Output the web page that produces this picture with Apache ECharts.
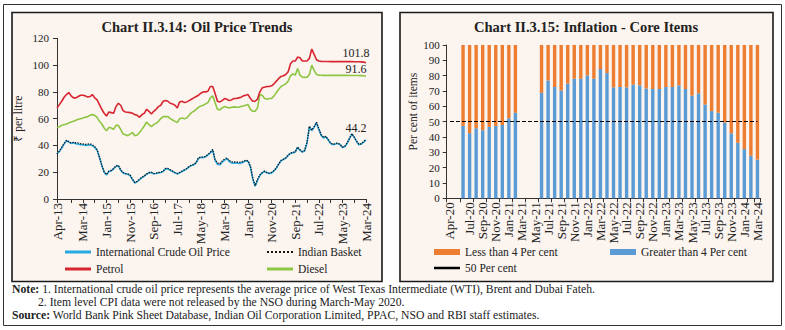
<!DOCTYPE html>
<html><head><meta charset="utf-8">
<script src="https://cdn.jsdelivr.net/npm/echarts@6/dist/echarts.min.js"></script>
<style>html,body{margin:0;padding:0;background:#fff}#c{width:785px;height:330px}</style>
</head><body><div id="c"></div>
<script>
// ---------- DATA ----------
const MON = ['Jan','Feb','Mar','Apr','May','Jun','Jul','Aug','Sep','Oct','Nov','Dec'];
function monthLabels(year, monthIdx, n){
  const out=[]; let y=year, m=monthIdx;
  for(let i=0;i<n;i++){ out.push(MON[m]+'-'+String(y%100).padStart(2,'0')); m++; if(m>11){m=0;y++;} }
  return out;
}
// Chart II.3.14 : Apr-13 .. Mar-24 (monthly)
const oilCategories = monthLabels(2013, 3, 132);
const oilYTicks = [0,20,40,60,80,100,120];
const crudePrice = [33.8,35.5,38,41,43.5,42.5,41.5,42,41.2,41,
 40.5,40.5,40,40.2,40.5,39.8,38.5,36.5,31,25,
 20,18,20.5,21,22.5,24.5,24.8,21.5,19.5,18.8,
 18.5,17.5,14.5,12,13,14.5,16,17,18.5,19.5,
 19.8,18.8,19,19.5,19.8,20.5,22.5,22.5,21.5,20.5,
 19.5,18.8,19.5,20.5,21.5,22.5,24,25,25.5,27,
 30.5,31,31,31.5,33,34.5,36.5,29,26,25.5,
 27.5,29,30,28,27,26.8,27,26.5,26.8,27.5,
 28.5,28,24,15,9.5,14,17.5,19.5,20.5,19.5,
 19,19.5,21,23,26,28.5,29.5,30.5,32.5,34,
 34.5,35,38.5,36.5,35,36,42,54,51,53.5,
 57,52,47.5,45.5,46.5,44,41.5,40.5,41,41.5,
 40.5,38.5,39,41.5,45,48.5,46,43,40.5,41,
 42.5,44.2];
const indianBasket = [33.5,35.8,38.5,41.5,43.8,42.8,41.8,42.3,42,41.8,
 41.3,41.2,40.8,41,41.2,40.5,39,36.8,31.2,25.3,
 20.2,18.3,20.8,21.3,22.8,24.8,25,21.8,19.8,19,
 18.8,17.8,14.8,12.3,13.2,14.8,16.3,17.3,18.8,19.8,
 20,19,19.3,19.8,20,20.8,22.8,22.8,21.8,20.8,
 19.8,19,19.8,20.8,21.8,22.8,24.3,25.3,25.8,27.3,
 30.8,31.3,31.3,31.8,33.3,34.8,37,29.5,26.8,26.3,
 28.2,29.8,30.8,28.8,27.8,27.6,27.8,27.3,27.6,28.2,
 29,28.5,24.5,15.5,10,14.5,18,19.8,20.8,19.8,
 19.3,19.8,21.3,23.3,26.3,28.8,29.8,30.8,32.8,34.3,
 34.8,35.3,38.8,36.8,35.3,36.3,42.3,54.3,51.5,54,
 57.3,52.5,48,46,46.8,44.3,41.8,40.8,41.3,41.8,
 40.8,38.8,39.3,41.8,45.3,48.8,46.3,43.3,40.8,41.3,
 42.8,44.5];
const petrolPrice = [68,70.5,73,76,78,79.5,77,75.5,75.5,76.5,
 77.5,77.5,77,76.2,76.5,78,75.5,74,70.5,67,
 64,62,65,64.5,64,69,71.5,70,66,65,
 64.8,64.5,64,63,62.5,61,63,64,67,65.5,
 63.5,65.5,67,69,70,73,73.5,73,71.5,71,
 70,68,72.5,73,72,72.5,73.5,74.5,75.5,76.5,
 77.5,79,80,80,80.5,84,84,79,73,72.5,
 73.5,75,74.5,73.5,74,75,75,75.5,76,77,
 77.5,78,75,73,73,74.5,80,83,83.5,84,
 84,84.5,86,88,90,91.5,92,93,95,101,
 103,103,106,105.5,103,103,103,105,112,108,
 104,103,102.8,102.7,102.7,102.7,102.6,102.6,102.6,102.6,
 102.6,102.6,102.6,102.6,102.6,102.6,102.5,102.5,102.5,102.4,
 102.2,101.8];
const dieselPrice = [53.5,54,55,55.5,56,56.8,57.5,58,58.8,59.5,
 60,60.5,61,61.5,62.5,63,62.5,61,58,56,
 53,51,53.5,53,52,55,55,52,48.5,48,
 47.3,48.5,49.7,47.3,47.8,49.7,52,54.5,57.5,55.5,
 54,55.5,56.5,58,60,61.5,61.5,61.5,60,59,
 58,57,60,60.5,60,60.5,62.5,64.5,65.5,67,
 68.5,69.5,70,71,72,75.5,77,72,67,66.5,
 68,69,68.5,68,68.5,68.8,68.5,68.5,69,69.5,
 70,70.5,67,65.5,65.5,68,78,77.5,75,74.5,
 75,75,77,79.5,82,84,85,86,88,92,
 93.5,92.5,97.5,92.5,91,90.8,91,93,100,96,
 93,92.5,92.4,92.3,92.3,92.3,92.3,92.3,92.3,92.3,
 92.3,92.3,92.3,92.3,92.2,92.2,92.2,92.2,92.2,92.1,
 92,91.6];

// Chart II.3.15 : Apr-20 .. Mar-24 (monthly)
const coreCategories = monthLabels(2020, 3, 48);
const coreYTicks = [0,10,20,30,40,50,60,70,80,90,100];
const greaterThan4 = [null,null,47.2,42.5,45.7,44.4,46.6,47.2,47.8,52.2,55.8,null,null,null,
 68.8,76.9,72.6,70.3,74.8,78,78,80.2,78,84.3,
 81.7,72.4,72.6,72.4,74.1,73.7,71.6,71.3,71.3,72.6,
 72.6,73.7,71.3,67,68.5,61.2,56.9,55.8,49.4,42.4,
 36.2,32.1,27.7,25.2];
const lessThan4 = [null,null,52.8,57.5,54.3,55.6,53.4,52.8,52.2,47.8,44.2,null,null,null,
 31.2,23.1,27.4,29.7,25.2,22,22,19.8,22,15.7,
 18.3,27.6,27.4,27.6,25.9,26.3,28.4,28.7,28.7,27.4,
 27.4,26.3,28.7,33,31.5,38.8,43.1,44.2,50.6,57.6,
 63.8,67.9,72.3,74.8];
const thresholdLine = 50;

// ---------- CHART ----------
const FONT = 'Liberation Serif';
const TXT = '#222';
const chart = echarts.init(document.getElementById('c'), null, {renderer:'svg'});

function endLbl(offset){
  return {show:true, formatter:(p)=>String(Array.isArray(p.value)?p.value[1]:p.value),
    fontFamily:FONT, fontSize:12, color:TXT, align:'center', verticalAlign:'middle', distance:0, offset:offset};
}

const DOTS = 'path://M0,0h2v2h-2zM4,0h2v2h-2zM8,0h2v2h-2zM12,0h2v2h-2zM16,0h2v2h-2zM20,0h2v2h-2zM24,0h2v2h-2z';
function legendItem(name, left, top, opts){
  return Object.assign({
    data:[name], left:left, top:top, itemWidth:26, itemHeight:3, padding:0, symbolKeepAspect:false,
    icon:'rect', textStyle:{fontFamily:FONT, fontSize:11.5, color:TXT}, selectedMode:false
  }, opts||{});
}

const xLbl = {fontFamily:FONT, fontSize:13, color:TXT, showMinLabel:true, showMaxLabel:true, hideOverlap:false};
const yLbl = {fontFamily:FONT, fontSize:11, color:TXT};

const option = {
  backgroundColor:'#fff',
  animation:false,
  graphic:[
    {type:'rect', z:-10, shape:{x:3.5,y:4.5,width:778,height:321}, style:{fill:'#fff', stroke:'#333', lineWidth:1}},
    {type:'rect', z:-9, shape:{x:12,y:12.5,width:370,height:269}, style:{fill:'#fbf4ef', stroke:'#1a1a1a', lineWidth:1.6}},
    {type:'rect', z:-9, shape:{x:400,y:12.5,width:373,height:269}, style:{fill:'#fbf4ef', stroke:'#1a1a1a', lineWidth:1.6}},
    {type:'text', x:197, y:27, style:{text:'Chart II.3.14: Oil Price Trends', font:'bold 14.5px "Liberation Serif"', fill:TXT, textAlign:'center', textVerticalAlign:'middle'}},
    {type:'text', x:586, y:27, style:{text:'Chart II.3.15: Inflation - Core Items', font:'bold 14.5px "Liberation Serif"', fill:TXT, textAlign:'center', textVerticalAlign:'middle'}},
    {type:'text', x:12, y:289, style:{text:'{b|Note:} 1. International crude oil price represents the average price of West Texas Intermediate (WTI), Brent and Dubai Fateh.', rich:{b:{fontWeight:'bold', fontFamily:FONT, fontSize:11.7, fill:TXT}}, font:'11.7px "Liberation Serif"', fill:TXT, textVerticalAlign:'middle'}},
    {type:'text', x:38, y:302, style:{text:'2. Item level CPI data were not released by the NSO during March-May 2020.', font:'11.7px "Liberation Serif"', fill:TXT, textVerticalAlign:'middle'}},
    {type:'text', x:12, y:315, style:{text:'{b|Source:} World Bank Pink Sheet Database, Indian Oil Corporation Limited, PPAC, NSO and RBI staff estimates.', rich:{b:{fontWeight:'bold', fontFamily:FONT, fontSize:11.7, fill:TXT}}, font:'11.7px "Liberation Serif"', fill:TXT, textVerticalAlign:'middle'}}
  ],
  legend:[
    legendItem('International Crude Oil Price', 65, 246),
    legendItem('Indian Basket', 267, 246, {icon:DOTS, itemHeight:2}),
    legendItem('Petrol', 65, 263),
    legendItem('Diesel', 267, 263),
    legendItem('Less than 4 Per cent', 434, 246, {itemHeight:6}),
    legendItem('Greater than 4 Per cent', 610, 246, {itemHeight:6}),
    legendItem('50 Per cent', 434, 262, {itemHeight:2.5, itemStyle:{color:'#000'}})
  ],
  grid:[
    {left:57, right:419, top:38.3, bottom:131},
    {left:446.7, right:24.3, top:45, bottom:131.7}
  ],
  xAxis:[
    {type:'category', gridIndex:0, data:oilCategories, boundaryGap:false,
     axisLine:{lineStyle:{color:'#333', width:1}},
     axisTick:{show:true, inside:false, length:4, interval:(i)=> i===0 || i===6 || (i>=11 && (i-11)%5===0), lineStyle:{color:'#333'}},
     axisLabel:Object.assign({rotate:90, margin:4, interval:(i)=> i===0 || (i>=11 && (i-11)%10===0)}, xLbl)},
    {type:'category', gridIndex:1, data:coreCategories, boundaryGap:true,
     axisLine:{lineStyle:{color:'#333', width:1}},
     axisTick:{show:true, length:4, interval:1, lineStyle:{color:'#333'}},
     axisLabel:Object.assign({rotate:90, margin:4, interval:(i)=> i===0 || (i>=3 && i%2===1)}, xLbl)}
  ],
  yAxis:[
    {type:'value', gridIndex:0, min:oilYTicks[0], max:oilYTicks[oilYTicks.length-1], interval:oilYTicks[1]-oilYTicks[0],
     name:'₹ per litre', nameLocation:'middle', nameGap:33, nameTextStyle:{fontFamily:FONT, fontSize:11.5, color:TXT},
     axisLine:{show:true, lineStyle:{color:'#333'}}, axisTick:{show:true, length:4, lineStyle:{color:'#333'}},
     splitLine:{show:false}, axisLabel:Object.assign({margin:8}, yLbl)},
    {type:'value', gridIndex:1, min:coreYTicks[0], max:coreYTicks[coreYTicks.length-1], interval:coreYTicks[1]-coreYTicks[0],
     name:'Per cent of items', nameLocation:'middle', nameGap:28, nameTextStyle:{fontFamily:FONT, fontSize:11.5, color:TXT, padding:[0,0,0,20]},
     axisLine:{show:true, lineStyle:{color:'#333'}}, axisTick:{show:true, length:4, lineStyle:{color:'#333'}},
     splitLine:{show:false}, axisLabel:Object.assign({margin:7}, yLbl)}
  ],
  series:[
    {name:'Diesel', type:'line', xAxisIndex:0, yAxisIndex:0, symbol:'none', color:'#8dc641',
     lineStyle:{width:1.6, color:'#8dc641'}, endLabel:endLbl([-10,-7]), data:dieselPrice},
    {name:'Petrol', type:'line', xAxisIndex:0, yAxisIndex:0, symbol:'none', color:'#d7262f',
     lineStyle:{width:1.6, color:'#d7262f'}, endLabel:endLbl([-10,-10]), data:petrolPrice},
    {name:'International Crude Oil Price', type:'line', xAxisIndex:0, yAxisIndex:0, symbol:'none', color:'#27a9e1',
     lineStyle:{width:1.6, color:'#27a9e1'}, endLabel:endLbl([-10,-12]), data:crudePrice},
    {name:'Indian Basket', type:'line', xAxisIndex:0, yAxisIndex:0, symbol:'none', color:'#111',
     lineStyle:{width:1.3, type:'dotted', color:'#111'}, data:indianBasket},
    {name:'Greater than 4 Per cent', type:'bar', xAxisIndex:1, yAxisIndex:1, stack:'core', barWidth:3.4,
     itemStyle:{color:'#5b9bd5'}, data:greaterThan4},
    {name:'Less than 4 Per cent', type:'bar', xAxisIndex:1, yAxisIndex:1, stack:'core', barWidth:3.4,
     itemStyle:{color:'#ed7d31'}, data:lessThan4},
    {name:'50 Per cent', type:'line', xAxisIndex:1, yAxisIndex:1, symbol:'none', color:'#000',
     lineStyle:{color:'#000', width:1, type:'dashed'}, data:[],
     markLine:{silent:true, symbol:['none','none'], label:{show:false},
       lineStyle:{color:'#000', width:1, type:[4,2]},
       data:[[{coord:[coreCategories[0], thresholdLine]},{coord:[coreCategories[coreCategories.length-1], thresholdLine]}]]}}
  ]
};
chart.setOption(option);
</script>
</body></html>
